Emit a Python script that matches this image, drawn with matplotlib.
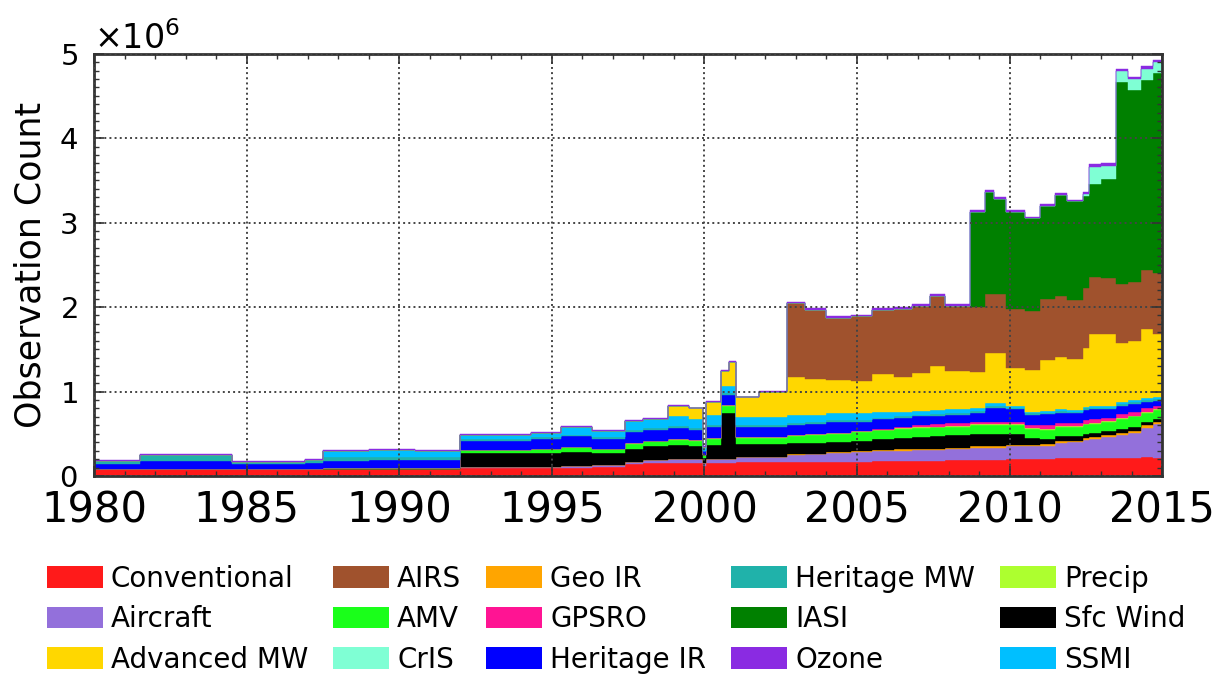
"""Stacked observation counts by instrument group, 1980-2015."""
import matplotlib
matplotlib.use("Agg")
import matplotlib.pyplot as plt
import numpy as np
from matplotlib.patches import Patch
from matplotlib.ticker import MultipleLocator, ScalarFormatter

# knot times (each value holds until the next knot)
YEARS = [1980.0, 1981.5, 1984.5, 1986.9, 1987.5, 1989.0, 1990.5, 1992.0, 1993.0, 1994.3,
         1995.3, 1996.3, 1997.4, 1998.0, 1998.8, 1999.5, 1999.95, 2000.05, 2000.55, 2000.8,
         2001.05, 2001.8, 2002.7, 2003.3, 2004.0, 2004.8, 2005.5, 2006.2, 2006.8, 2007.4,
         2007.9, 2008.7, 2009.2, 2009.5, 2009.9, 2010.5, 2011.0, 2011.5, 2011.9, 2012.4,
         2012.6, 2013.0, 2013.5, 2013.9, 2014.3, 2014.7, 2015.0]

# observation counts, millions (bottom of the stack first)
conventional = [.08, .08, .08, .08, .08, .08, .08, .10, .10, .10,
                .10, .11, .14, .15, .15, .15, .12, .15, .15, .15,
                .16, .16, .17, .17, .17, .17, .18, .18, .18, .18,
                .19, .19, .19, .19, .20, .20, .20, .21, .21, .21,
                .21, .21, .21, .21, .22, .21, .21]
aircraft = [0, 0, 0, 0, 0, 0, 0, .01, .01, .01,
            .02, .02, .03, .04, .05, .05, .03, .05, .05, .05,
            .06, .07, .08, .09, .10, .11, .12, .12, .13, .13,
            .13, .14, .14, .14, .15, .15, .16, .18, .19, .22,
            .23, .25, .28, .30, .35, .40, .40]
geo_ir = [0, 0, 0, 0, 0, 0, 0, 0, 0, 0,
          0, 0, 0, 0, 0, 0, 0, 0, 0, 0,
          0, 0, .005, .005, .01, .01, .01, .015, .015, .015,
          .015, .02, .02, .02, .02, .02, .02, .02, .02, .02,
          .02, .02, .02, .025, .03, .03, .03]
sfc_wind = [0, 0, 0, 0, 0, 0, 0, .16, .16, .16,
            .16, .14, .15, .16, .17, .16, .06, .17, .55, .55,
            .16, .15, .14, .13, .12, .13, .13, .14, .14, .15,
            .15, .15, .15, .15, .13, .08, .06, .06, .05, .05,
            .05, .05, .05, .05, .04, .04, .04]
amv = [0, 0, 0, 0, .01, .01, .01, .04, .04, .05,
       .06, .05, .06, .06, .06, .06, .04, .07, .08, .08,
       .07, .07, .08, .09, .10, .10, .10, .10, .10, .10,
       .10, .10, .10, .10, .10, .11, .11, .11, .11, .11,
       .11, .11, .12, .12, .11, .10, .10]
precip = [0, 0, 0, 0, 0, 0, 0, 0, 0, 0,
          0, 0, .01, .01, .01, .01, 0, .01, .01, .01,
          .01, .01, .01, .01, .01, .01, .01, .01, .01, .01,
          .01, .01, .01, .01, .01, .01, .01, .01, .01, .01,
          .01, .01, .01, .01, .01, .01, .01]
gpsro = [0, 0, 0, 0, 0, 0, 0, 0, 0, 0,
         0, 0, 0, 0, 0, 0, 0, 0, 0, 0,
         0, 0, 0, 0, 0, 0, .01, .02, .03, .03,
         .03, .03, .03, .03, .03, .03, .04, .04, .04, .04,
         .04, .04, .04, .04, .04, .04, .04]
heritage_ir = [.06, .10, .06, .07, .09, .10, .10, .11, .11, .12,
               .13, .12, .13, .13, .13, .12, .04, .13, .12, .12,
               .12, .12, .12, .12, .13, .11, .11, .10, .10, .10,
               .10, .11, .17, .17, .15, .12, .13, .12, .11, .12,
               .12, .10, .10, .10, .08, .06, .06]
heritage_mw = [.04, .07, .03, .04, .04, .04, .03, .02, .02, .02,
               .02, .02, .02, .02, .02, .02, .01, .02, .02, .02,
               .02, .02, .02, .02, .02, .02, .02, .02, .02, .02,
               .02, .02, .02, .02, .02, .02, .02, .02, .02, .02,
               .02, .02, .02, .02, .02, .02, .02]
ssmi = [0, 0, 0, 0, .08, .08, .08, .05, .05, .05,
        .09, .07, .11, .11, .12, .11, .03, .12, .08, .09,
        .10, .10, .10, .09, .08, .08, .07, .05, .05, .05,
        .05, .04, .03, .03, .02, .02, .02, .02, .02, .02,
        .02, .02, .02, .02, .02, .02, .02]
advanced_mw = [0, 0, 0, 0, 0, 0, 0, 0, 0, 0,
               0, 0, 0, 0, .12, .12, .01, .16, .18, .28,
               .23, .30, .45, .42, .40, .38, .45, .42, .45, .52,
               .45, .42, .60, .60, .45, .49, .60, .62, .60, .70,
               .85, .85, .70, .70, .82, .75, .75]
airs = [0, 0, 0, 0, 0, 0, 0, 0, 0, 0,
        0, 0, 0, 0, 0, 0, 0, 0, 0, 0,
        0, 0, .87, .82, .73, .77, .76, .80, .79, .83,
        .77, .77, .70, .70, .70, .70, .72, .72, .70, .70,
        .68, .66, .70, .70, .70, .72, .72]
iasi = [0, 0, 0, 0, 0, 0, 0, 0, 0, 0,
        0, 0, 0, 0, 0, 0, 0, 0, 0, 0,
        0, 0, 0, 0, 0, 0, 0, 0, 0, 0,
        0, 1.13, 1.20, 1.12, 1.15, 1.10, 1.11, 1.20, 1.17, 1.10,
        1.10, 1.18, 2.40, 2.28, 2.25, 2.37, 2.37]
cris = [0, 0, 0, 0, 0, 0, 0, 0, 0, 0,
        0, 0, 0, 0, 0, 0, 0, 0, 0, 0,
        0, 0, 0, 0, 0, 0, 0, 0, 0, 0,
        0, 0, 0, 0, 0, 0, 0, 0, 0, .02,
        .20, .15, .12, .12, .13, .13, .13]
ozone = [.01, .01, .01, .01, .01, .01, .01, .01, .01, .01,
         .01, .01, .01, .01, .01, .01, .01, .01, .01, .01,
         .01, .01, .02, .02, .02, .02, .02, .02, .02, .02,
         .02, .02, .02, .02, .02, .02, .02, .02, .02, .02,
         .03, .03, .03, .03, .03, .03, .03]

STACK = [
    ("Conventional", conventional, "#ff1a1a"),
    ("Aircraft", aircraft, "#9370db"),
    ("Geo IR", geo_ir, "#ffa500"),
    ("Sfc Wind", sfc_wind, "#000000"),
    ("AMV", amv, "#1aff1a"),
    ("Precip", precip, "#adff2f"),
    ("GPSRO", gpsro, "#ff1493"),
    ("Heritage IR", heritage_ir, "#0000ff"),
    ("Heritage MW", heritage_mw, "#20b2aa"),
    ("SSMI", ssmi, "#00bfff"),
    ("Advanced MW", advanced_mw, "#ffd700"),
    ("AIRS", airs, "#a0522d"),
    ("IASI", iasi, "#008000"),
    ("CrIS", cris, "#7fffd4"),
    ("Ozone", ozone, "#8a2be2"),
]

LEGEND_ORDER = ["Conventional", "Aircraft", "Advanced MW",
                "AIRS", "AMV", "CrIS",
                "Geo IR", "GPSRO", "Heritage IR",
                "Heritage MW", "IASI", "Ozone",
                "Precip", "Sfc Wind", "SSMI"]


def main():
    fig = plt.figure(figsize=(12.2, 6.79), dpi=100)
    ax = fig.add_axes([0.0773, 0.299, 0.8752, 0.622])

    t = np.array(YEARS)
    base = np.zeros(len(t))
    colors = {}
    for name, vals, color in STACK:
        top = base + np.array(vals) * 1e6
        ax.fill_between(t, base, top, step="post", facecolor=color,
                        edgecolor=color, linewidth=0.3, zorder=2)
        colors[name] = color
        base = top

    ax.set_xlim(1980, 2015)
    ax.set_ylim(0, 5e6)
    ax.xaxis.set_major_locator(MultipleLocator(5))
    ax.xaxis.set_minor_locator(MultipleLocator(1))
    ax.yaxis.set_major_locator(MultipleLocator(1e6))
    ax.yaxis.set_minor_locator(MultipleLocator(1e5))

    fmt = ScalarFormatter(useMathText=True)
    fmt.set_powerlimits((0, 0))
    ax.yaxis.set_major_formatter(fmt)
    ax.yaxis.get_offset_text().set_fontsize(24)

    ax.grid(True, which="major", linestyle=":", linewidth=1.4, color="#444", zorder=3)
    ax.set_axisbelow(False)
    ax.tick_params(which="both", direction="in", top=True, right=True, color="#333")
    ax.tick_params(which="major", length=7, width=1.2)
    ax.tick_params(which="minor", length=3.5, width=1.0)
    ax.tick_params(axis="x", labelsize=30, pad=10)
    ax.tick_params(axis="y", labelsize=21, pad=12)
    for sp in ax.spines.values():
        sp.set_linewidth(2)
        sp.set_color("#333")

    ax.set_ylabel("Observation Count", fontsize=25, labelpad=8)

    handles = [Patch(facecolor=colors[n], edgecolor="none", label=n) for n in LEGEND_ORDER]
    fig.legend(handles=handles, ncol=5, loc="center left",
               bbox_to_anchor=(47 / 1220, 0.088), frameon=False, fontsize=20,
               handlelength=2.0, handleheight=0.8, handletextpad=0.3,
               columnspacing=0.9, labelspacing=0.45, borderpad=0, borderaxespad=0)

    fig.savefig("out.png", dpi=100)


if __name__ == "__main__":
    main()
